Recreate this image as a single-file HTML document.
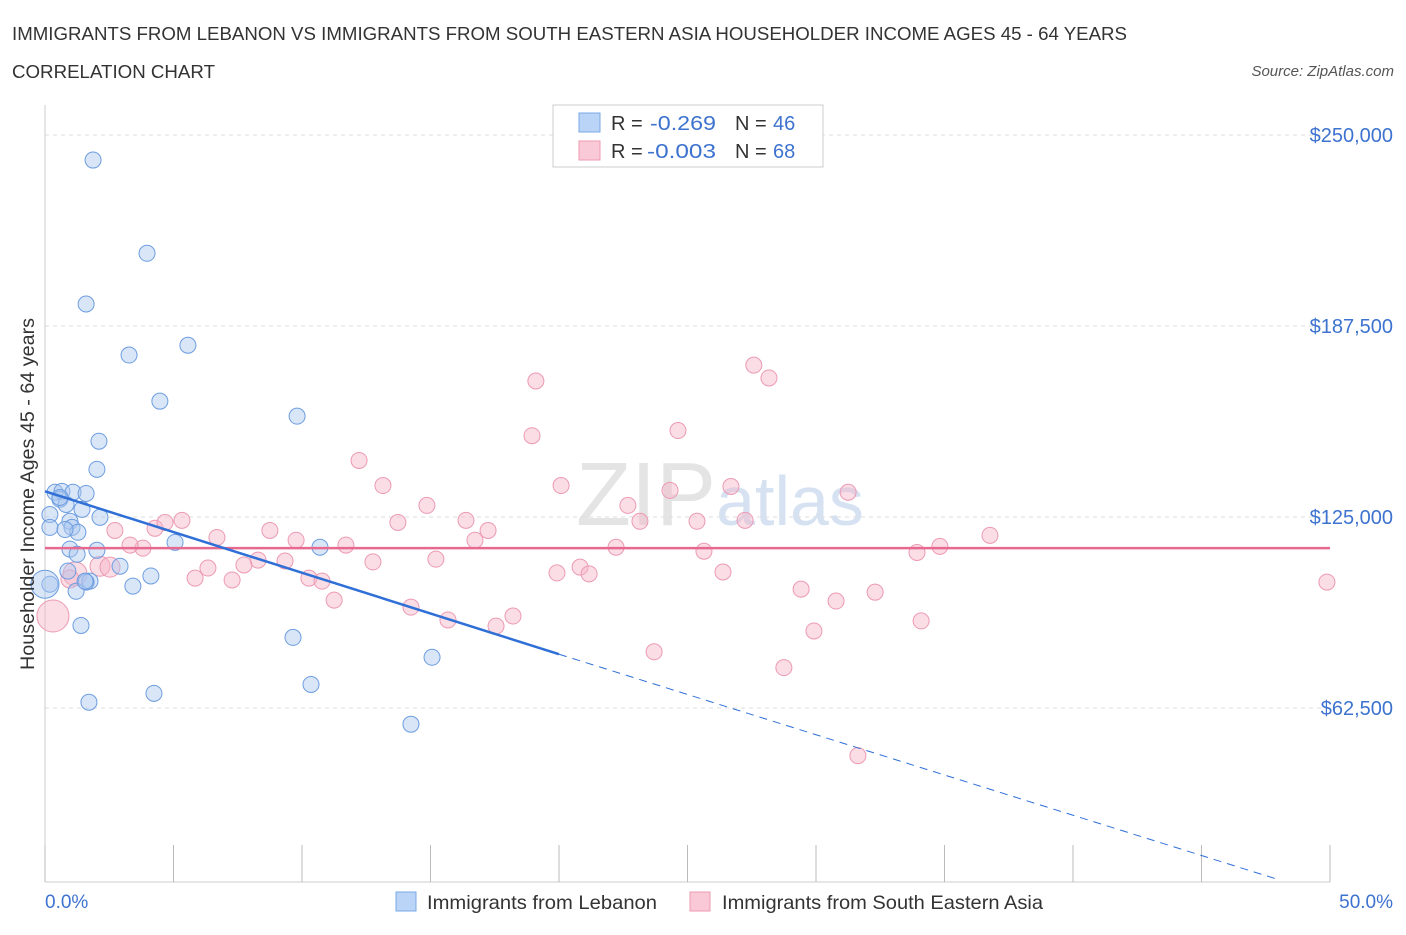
<!DOCTYPE html>
<html><head><meta charset="utf-8"><style>
body{margin:0;background:#fff;font-family:"Liberation Sans",sans-serif;}
svg text{font-family:"Liberation Sans",sans-serif;}
</style></head><body>
<svg id="chart" width="1406" height="930" xmlns="http://www.w3.org/2000/svg">
<text x="12" y="40" font-size="18.5" fill="#333" textLength="1115" lengthAdjust="spacingAndGlyphs">IMMIGRANTS FROM LEBANON VS IMMIGRANTS FROM SOUTH EASTERN ASIA HOUSEHOLDER INCOME AGES 45 - 64 YEARS</text>
<text x="12" y="78" font-size="18.5" fill="#333" textLength="203" lengthAdjust="spacingAndGlyphs">CORRELATION CHART</text>
<text x="1394" y="76" font-size="15" fill="#555" font-style="italic" text-anchor="end">Source: ZipAtlas.com</text>
<text x="720" y="525" font-size="90" fill="#e4e4e4" text-anchor="middle" font-family="Liberation Serif">ZIP<tspan fill="#d6e2f2" font-family="Liberation Sans" font-size="70">atlas</tspan></text>
<g id="grid"></g><g id="axes"></g><g id="marks"></g>
<text transform="translate(34,494) rotate(-90)" font-size="19" fill="#333" text-anchor="middle" textLength="352" lengthAdjust="spacingAndGlyphs">Householder Income Ages 45 - 64 years</text>
<g>
<rect x="553" y="105" width="270" height="62" fill="#fff" stroke="#ccc"/>
<rect x="579" y="113" width="21" height="19" fill="#b9d4f7" stroke="#7aa8e6"/>
<text x="611" y="130" font-size="20" fill="#333">R = </text><text x="650" y="130" font-size="20" fill="#3d73cf" textLength="66" lengthAdjust="spacingAndGlyphs">-0.269</text>
<text x="735" y="130" font-size="20" fill="#333">N = </text><text x="773" y="130" font-size="20" fill="#3d73cf">46</text>
<rect x="579" y="141" width="21" height="19" fill="#f9c9d7" stroke="#ee9ab3"/>
<text x="611" y="158" font-size="20" fill="#333">R = </text><text x="647" y="158" font-size="20" fill="#3d73cf" textLength="69" lengthAdjust="spacingAndGlyphs">-0.003</text>
<text x="735" y="158" font-size="20" fill="#333">N = </text><text x="773" y="158" font-size="20" fill="#3d73cf">68</text>
</g>
<g>
<rect x="396" y="892" width="20" height="19" fill="#b9d4f7" stroke="#7aa8e6"/>
<text x="427" y="909" font-size="19.5" fill="#333" textLength="230" lengthAdjust="spacingAndGlyphs">Immigrants from Lebanon</text>
<rect x="690" y="892" width="20" height="19" fill="#f9c9d7" stroke="#ee9ab3"/>
<text x="722" y="909" font-size="19.5" fill="#333" textLength="321" lengthAdjust="spacingAndGlyphs">Immigrants from South Eastern Asia</text>
</g>
</svg>
<script>
const yTicks=[62500,125000,187500,250000];
const yTickLabels=["$62,500","$125,000","$187,500","$250,000"];
const xTickLabels=["0.0%","50.0%"];
const blueX=[1.87,3.97,1.6,3.27,5.56,4.47,9.81,2.1,2.02,0.39,0.66,1.09,1.6,0.58,0.82,1.44,0.19,0.19,0.97,1.05,2.14,1.28,5.06,10.7,0.97,1.25,2.02,2.92,0.89,4.12,1.75,1.6,3.42,1.21,0.19,1.4,9.65,15.06,10.35,4.24,1.71,14.24,0.0,0.58,0.78,1.56];
const blueY=[241800,211300,194700,178000,181200,162900,158000,149800,140600,133100,133400,133100,132700,130800,129100,127500,125800,121600,123600,121600,124900,120000,116700,115100,114500,112800,114100,108900,107300,105700,104000,103700,102400,100700,103000,89500,85600,79100,70200,67300,64400,57200,103000,131400,120900,104000];
const blueR=[8,8,8,8,8,8,8,8,8,8,8,8,8,8,8,8,8,8,8,8,8,8,8,8,8,8,8,8,8,8,8,8,8,8,8,8,8,8,8,8,8,8,14,8,8,8];
const pinkX=[19.1,27.58,28.17,18.95,24.63,12.22,13.15,20.08,24.32,26.69,31.25,14.86,16.38,13.73,17.24,22.68,23.15,25.37,27.24,8.75,6.69,9.77,11.71,16.73,22.22,25.64,33.93,34.82,36.77,2.72,3.81,4.28,4.67,5.33,3.31,8.29,9.34,7.74,12.76,15.21,6.34,5.84,7.28,10.27,10.78,19.92,20.82,21.17,26.38,11.25,14.24,15.68,17.55,18.21,29.42,30.78,32.3,34.09,29.92,23.7,28.75,31.63,49.88,2.14,1.17,2.53,0.31,0.97];
const pinkY=[169500,174700,170500,151600,153300,143500,135300,135300,133700,135000,133100,128800,123900,123200,120600,128800,123600,123600,123900,120600,118300,117400,115800,117400,115100,113800,113400,115400,119000,120600,114800,121300,123200,123900,115800,110900,110600,109300,110300,111200,108300,105000,104400,105000,104000,106700,108600,106400,107000,97800,95500,91300,89300,92600,101400,97500,100400,91000,87700,80900,75700,46900,103700,108900,106400,108600,92600,104700];
const pinkR=[8,8,8,8,8,8,8,8,8,8,8,8,8,8,8,8,8,8,8,8,8,8,8,8,8,8,8,8,8,8,8,8,8,8,8,8,8,8,8,8,8,8,8,8,8,8,8,8,8,8,8,8,8,8,8,8,8,8,8,8,8,8,8,10,12,10,16,9];
const blueTrend=[[0,133400],[20,80100]];
const blueTrendExt=[[20,80100],[48.05,6200]];
const pinkTrend=[[0,114800],[50,114800]];
const xs=v=>45+v/50*1285, ys=v=>899-v/62500*191;
const NS="http://www.w3.org/2000/svg";
function mk(t,a,p){const e=document.createElementNS(NS,t);for(const k in a)e.setAttribute(k,a[k]);document.getElementById(p).appendChild(e);return e;}
yTicks.forEach((t,i)=>{
 const l=mk('line',{x1:45,x2:1330,y1:ys(t),y2:ys(t),stroke:'#ddd','stroke-dasharray':'4,4'},'grid');
 
 
 const tx=mk('text',{x:1393,y:ys(t)+7,'font-size':20,fill:'#3d73cf','text-anchor':'end'},'axes');
 tx.textContent=yTickLabels[i];
 
 
});
const ax=mk('line',{x1:45,x2:45,y1:105,y2:882,stroke:'#ccc'},'axes');


const bx=mk('line',{x1:45,x2:1330,y1:882,y2:882,stroke:'#ccc'},'axes');


for(let i=0;i<=10;i++){const t=mk('line',{x1:xs(i*5),x2:xs(i*5),y1:845,y2:882,stroke:'#bbb'},'axes');
 
 }
[[0,'start',45],[1,'end',1393]].forEach(([i,a,x])=>{const t=mk('text',{x:x,y:908,'font-size':19,fill:'#3d73cf','text-anchor':a},'axes');t.textContent=xTickLabels[i];
 
 });
pinkX.forEach((x,i)=>{const c=mk('circle',{cx:xs(x),cy:ys(pinkY[i]),r:pinkR[i],fill:'rgba(246,180,200,0.45)',stroke:'#ec9ab3','stroke-width':1},'marks');
 
 });
blueX.forEach((x,i)=>{const c=mk('circle',{cx:xs(x),cy:ys(blueY[i]),r:blueR[i],fill:'rgba(170,200,240,0.45)',stroke:'#6d9de0','stroke-width':1},'marks');
 
 });
const pl=mk('line',{x1:xs(pinkTrend[0][0]),y1:ys(pinkTrend[0][1]),x2:xs(pinkTrend[1][0]),y2:ys(pinkTrend[1][1]),stroke:'#e8698f','stroke-width':2.5},'marks');


const bl=mk('line',{x1:xs(blueTrend[0][0]),y1:ys(blueTrend[0][1]),x2:xs(blueTrend[1][0]),y2:ys(blueTrend[1][1]),stroke:'#2f6fd6','stroke-width':2.5},'marks');


const be=mk('line',{x1:xs(blueTrendExt[0][0]),y1:ys(blueTrendExt[0][1]),x2:xs(blueTrendExt[1][0]),y2:ys(blueTrendExt[1][1]),stroke:'#2f6fd6','stroke-width':1,'stroke-dasharray':'8,6'},'marks');


</script>
</body></html>
